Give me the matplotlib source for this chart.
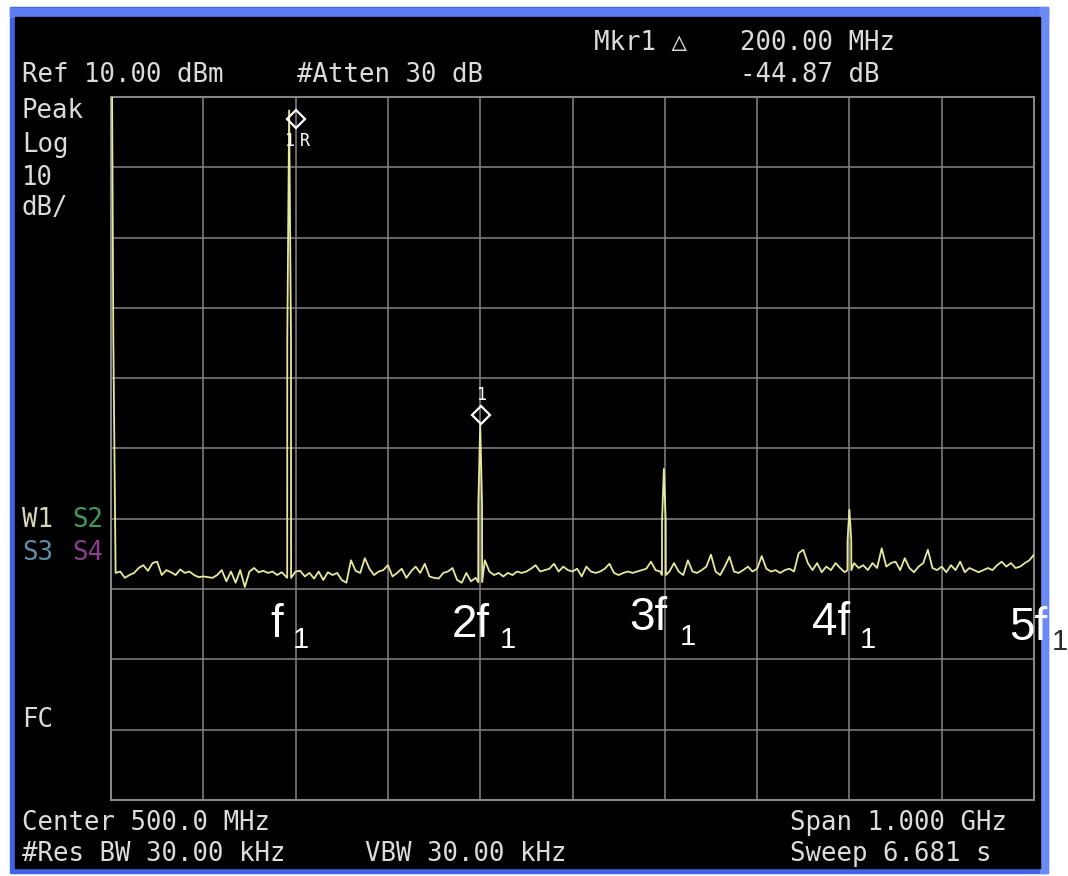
import matplotlib.pyplot as plt
from matplotlib.patches import Rectangle
import numpy as np

# spectrum analyzer screen: 0..1000 MHz, ref 10 dBm, 10 dB/div
harm_freq = [193, 400, 599, 800]            # MHz
harm_top = [8.1, -36.6, -42.9, -48.7]       # dBm
harm_shoulder = [-24.6, -47.9, -50.3, -53.0]
harm_base = [-58.4, -59.0, -58.0, -57.3]

lo_freq = [1, 2.5]
lo_level = [15.0, -24.0]

# noise floor, one reading every 5 MHz from 5 to 1000 MHz
noise_level = [
    -57.7, -57.5, -58.4, -58.0, -57.7, -57.0, -56.6, -57.4, -56.3, -56.1,
    -58.0, -57.3, -57.6, -58.0, -57.2, -57.7, -57.5, -58.0, -58.3, -58.2,
    -58.3, -58.4, -58.0, -57.3, -58.9, -57.5, -59.1, -57.3, -59.7, -57.5,
    -57.0, -57.6, -57.4, -57.7, -57.5, -58.0, -57.6, -57.8, -57.7, -57.5,
    -57.4, -58.2, -57.7, -58.5, -57.5, -58.7, -57.6, -58.0, -57.7, -58.7,
    -59.1, -55.9, -57.4, -57.7, -55.6, -57.1, -58.0, -57.5, -57.3, -56.6,
    -58.2, -57.7, -57.1, -58.4, -57.5, -56.8, -57.7, -56.4, -58.2, -58.4,
    -58.5, -57.7, -57.5, -57.0, -58.7, -59.1, -57.7, -58.9, -58.4, -57.5,
    -55.9, -57.5, -58.0, -57.7, -58.2, -57.7, -58.0, -57.5, -57.7, -57.5,
    -57.1, -56.6, -57.5, -57.3, -57.1, -56.4, -57.5, -56.8, -57.3, -57.5,
    -57.1, -58.2, -56.8, -57.5, -57.7, -57.5, -57.1, -56.4, -57.7, -58.0,
    -57.7, -57.5, -57.7, -57.5, -57.3, -57.1, -56.1, -57.3, -57.5, -57.5,
    -57.5, -56.3, -57.5, -58.0, -55.9, -57.5, -57.7, -57.3, -56.8, -55.1,
    -57.5, -58.0, -56.8, -55.4, -57.5, -57.7, -57.3, -56.8, -57.5, -57.1,
    -55.3, -57.1, -57.5, -57.3, -57.7, -57.3, -57.1, -57.5, -54.9, -54.4,
    -56.3, -57.3, -56.3, -57.6, -56.8, -57.3, -56.3, -57.0, -57.6, -56.5,
    -56.3, -57.0, -56.6, -57.3, -56.3, -57.0, -54.2, -56.8, -56.3, -56.1,
    -57.3, -55.6, -57.0, -57.6, -56.8, -56.3, -54.4, -57.0, -57.3, -56.8,
    -57.6, -56.6, -57.3, -56.1, -57.6, -57.0, -57.3, -57.6, -57.3, -57.0,
    -57.3, -56.6, -56.1, -56.8, -56.3, -57.0, -56.8, -56.3, -55.9, -55.1,
]
noise_freq = np.arange(5, 1001, 5)

marker_freq = [200, 401]
marker_level = [6.9, -35.2]

harm_labels = ['f', '2f', '3f', '4f', '5f']
label_freq = [186, 411, 603, 801, 1015]
label_level = [-66.8, -66.8, -65.8, -66.5, -67.2]
sub_freq = [197, 421, 616, 811, 1019]
sub_level = [-68.4, -68.4, -68.0, -68.4, -68.7]
sub_color = ['white', 'white', 'white', 'white', '#2a2a2a']

W, H = 1068, 876
fig = plt.figure(figsize=(W / 100, H / 100), dpi=100)
fig.patch.set_facecolor('white')

# screen bezel
fig.add_artist(Rectangle((10 / W, 1 - 873 / H), 1038 / W, 866 / H,
                         transform=fig.transFigure, color='#4262e6', zorder=0))
fig.add_artist(Rectangle((10 / W, 1 - 17 / H), 1038 / W, 9 / H,
                         transform=fig.transFigure, color='#5a7cf0', zorder=0))
fig.add_artist(Rectangle((1040 / W, 1 - 873 / H), 8 / W, 866 / H,
                         transform=fig.transFigure, color='#6a8cf2', zorder=0))
fig.add_artist(Rectangle((15 / W, 1 - 868 / H), 1025 / W, 851 / H,
                         transform=fig.transFigure, color='black', zorder=0))

ax = fig.add_axes([111 / W, 1 - 800 / H, 923 / W, 703 / H])
ax.set_facecolor('black')
ax.set_xlim(0, 1000)
ax.set_ylim(-90, 10)
ax.set_xticks(np.arange(0, 1001, 100))
ax.set_yticks(np.arange(-90, 11, 10))
ax.tick_params(length=0, labelbottom=False, labelleft=False)
ax.grid(color='#858585', lw=1.1)
for s in ax.spines.values():
    s.set_color('#858585')
    s.set_linewidth(1.5)

# assemble trace
nf = np.array(noise_freq, dtype=float)
nl = np.array(noise_level)
keep = np.min(np.abs(nf[:, None] - np.array(harm_freq)[None, :]), axis=1) > 3.5
fx = list(lo_freq) + list(nf[keep])
fy = list(lo_level) + list(nl[keep])
for f, top, sh, base in zip(harm_freq, harm_top, harm_shoulder, harm_base):
    fx += [f - 2.1, f - 2, f, f + 2, f + 2.1]
    fy += [base, sh, top, sh, base]
order = np.argsort(fx, kind='stable')
fx = np.array(fx)[order]
fy = np.array(fy)[order]
ax.plot(fx, fy, color='#e8e89c', lw=1.3, zorder=3)

# markers
ax.plot(marker_freq, marker_level, 'D', ms=9, mfc='none', mec='white', mew=1.6, zorder=4)
mono = ['DejaVu Sans Mono', 'DejaVu Sans']
ax.text(marker_freq[0] - 1.5, marker_level[0] - 1.9, '1', color='white', fontsize=12,
        family=mono, ha='right', va='top')
ax.text(marker_freq[0] + 5, marker_level[0] - 1.9, 'R', color='white', fontsize=12,
        family=mono, ha='left', va='top')
ax.text(marker_freq[1], marker_level[1] + 1.6, '1', color='white', fontsize=12,
        family=mono, ha='center', va='bottom')

# harmonic labels
for lab, x, y in zip(harm_labels, label_freq, label_level):
    ax.text(x, y, lab, color='white', fontsize=33, family='Liberation Sans',
            ha='right', va='baseline', clip_on=False, zorder=5)
for x, y, c in zip(sub_freq, sub_level, sub_color):
    ax.text(x, y, '1', color=c, fontsize=21, family='Liberation Sans',
            ha='left', va='baseline', clip_on=False, zorder=5)


def screen_text(x, y, s, color='#dcdcdc'):
    fig.text(x / W, 1 - y / H, s, color=color, fontsize=18.5, family=mono,
             ha='left', va='baseline')


screen_text(594, 50, 'Mkr1 \u25b3')
screen_text(740, 50, '200.00 MHz')
screen_text(22, 82, 'Ref 10.00 dBm')
screen_text(297, 82, '#Atten 30 dB')
screen_text(740, 82, '-44.87 dB')
screen_text(22, 118, 'Peak')
screen_text(22, 152, 'Log')
screen_text(22, 185, '10')
screen_text(22, 215, 'dB/')
screen_text(22, 527, 'W1', '#d8d8b8')
screen_text(72, 527, 'S2', '#3f9a5c')
screen_text(22, 560, 'S3', '#5f8fa8')
screen_text(72, 560, 'S4', '#8c3f8c')
screen_text(22, 727, 'FC')
screen_text(22, 830, 'Center 500.0 MHz')
screen_text(22, 861, '#Res BW 30.00 kHz')
screen_text(365, 861, 'VBW 30.00 kHz')
screen_text(790, 830, 'Span 1.000 GHz')
screen_text(790, 861, 'Sweep 6.681 s')

fig.savefig('out.png', dpi=100, facecolor='white')
